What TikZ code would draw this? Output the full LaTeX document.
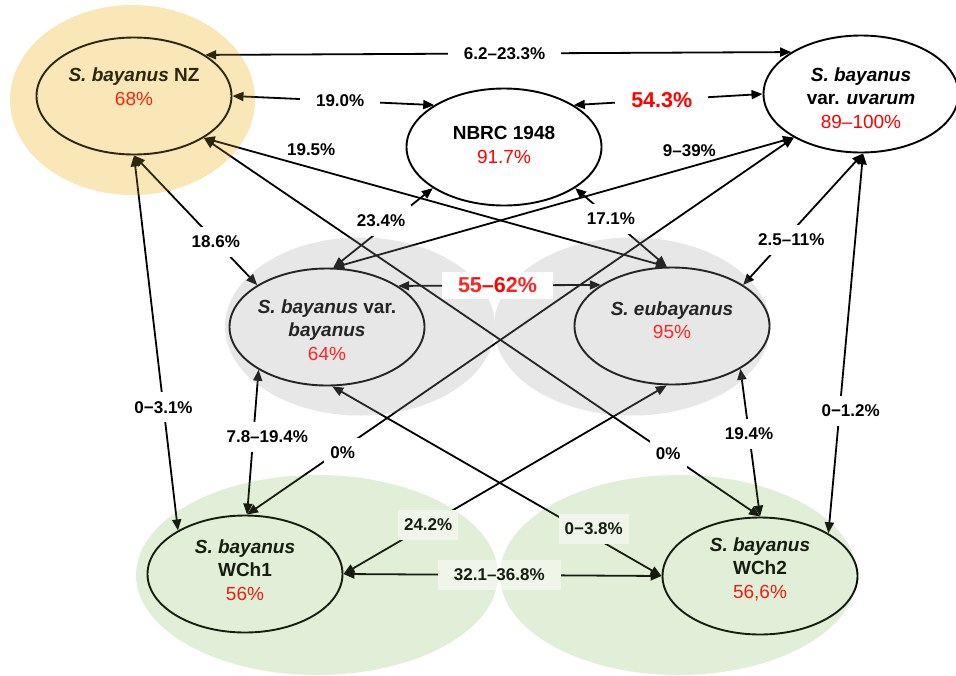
\documentclass[tikz,border=0pt]{standalone}
\usepackage{fontspec}
\setmainfont{Liberation Sans}
\usetikzlibrary{shapes.geometric,arrows.meta,positioning}

\definecolor{nzlow}{RGB}{255,242,212}
\definecolor{nztop}{RGB}{225,190,75}
\definecolor{grlow}{RGB}{228,228,228}
\definecolor{grtop}{RGB}{250,250,250}
\definecolor{chlow}{RGB}{239,247,236}
\definecolor{chtop}{RGB}{150,200,110}

\newcommand{\pcval}[1]{{\mdseries\color{red}#1}}

\begin{document}
\begin{tikzpicture}[x=1pt,y=-1pt,
taxon/.style={ellipse,draw,line width=1.9pt,minimum width=195pt,minimum height=117pt,inner sep=0pt},
taxtext/.style={align=center,inner sep=0pt,font=\fontsize{19}{23.5}\selectfont\bfseries},
lbl/.style={fill=white,inner xsep=6pt,inner ysep=9pt,font=\fontsize{17}{20}\selectfont\bfseries},
wide/.style={inner xsep=16pt},
big/.style={text=red,inner ysep=6pt,font=\fontsize{21.5}{24}\selectfont\bfseries},
tag/.style={inner sep=1pt,font=\fontsize{17}{20}\selectfont\bfseries}
]

\tikzstyle{link} = [{Triangle[length=11pt,width=9pt]}-{Triangle[length=11pt,width=9pt]},line width=1.8pt]

\useasboundingbox (0,0) rectangle (956,675);

% glows under the strains
\fill[nzlow] (132.5,100) ellipse [x radius=122.5, y radius=95];
\fill[grlow] (360,326.5) ellipse [x radius=135, y radius=89];
\fill[grlow] (632,326.5) ellipse [x radius=138, y radius=89];
\fill[chlow] (317,575) ellipse [x radius=181, y radius=100];
\fill[chlow] (678.5,575) ellipse [x radius=178.5, y radius=100];

  \node (nz)   [taxon] at (134,96)  {};
  \node (nbrc) [taxon] at (504,147) {};
  \node (uv)   [taxon] at (861,94)  {};
  \node (vb)   [taxon] at (327,327) {};
  \node (eu)   [taxon] at (672,326) {};
  \node (w1)   [taxon] at (245,574) {};
  \node (w2)   [taxon] at (760,576) {};

  \node (nztext)   [taxtext,yshift=9.5pt] at (nz)   {\textit{S. bayanus}\ NZ\\\pcval{68\%}};
  \node (nbrctext) [taxtext,yshift=2pt]   at (nbrc) {NBRC 1948\\\pcval{91.7\%}};
  \node (uvtext)   [taxtext,yshift=-4pt]  at (uv)   {\textit{S. bayanus}\\var. \textit{uvarum}\\\pcval{89–100\%}};
  \node (vbtext)   [taxtext,yshift=-3pt]  at (vb)   {\textit{S. bayanus}\ var.\\\textit{bayanus}\\\pcval{64\%}};
  \node (eutext)   [taxtext,yshift=6pt]   at (eu)   {\textit{S. eubayanus}\\\pcval{95\%}};
  \node (w1text)   [taxtext,yshift=4pt]   at (w1)   {\textit{S. bayanus}\\WCh1\\\pcval{56\%}};
  \node (w2text)   [taxtext,yshift=7pt]   at (w2)   {\textit{S. bayanus}\\WCh2\\\pcval{56,6\%}};

% links
\draw[link] (nz.30) -- node[lbl,wide,pos=.511] {6.2–23.3\%} (uv.149);
\draw[link] (nz.0) -- node[lbl,wide,pos=.534] {19.0\%} (nbrc.149);
\draw[link] (nbrc.31) -- node[lbl,wide,big,pos=.466] {54.3\%} (uv.180);
\draw[link] (nz.-31) -- node[tag,pos=.232,above=10.5pt] {19.5\%} (eu.95);
\draw[link] (nz.-90) -- node[lbl,pos=.664] {18.6\%} (vb.149);
\draw[link] (nz.-90) -- node[lbl,pos=.672] {0−3.1\%} (w1.147);
\draw[link] (nbrc.-150) -- node[lbl,pos=.52,yshift=9pt] {23.4\%} (vb.84);
\draw[link] (nbrc.-30) -- node[lbl,pos=.39] {17.1\%} (eu.95);
\draw[link] (uv.-147) -- node[tag,pos=.227,above=8.5pt] {9–39\%} (vb.84);
\draw[link] (uv.-88) -- node[lbl,pos=.657,xshift=7pt] {2.5–11\%} (eu.30);
\draw[link] (uv.-88) -- node[lbl,pos=.677,xshift=11pt] {0−1.2\%} (w2.32);
\draw[link] (vb.30) -- node[lbl,wide,big,pos=.49] {55–62\%} (eu.150);
\draw[link] (vb.-148) -- node[lbl,pos=.463,xshift=14pt] {7.8–19.4\%} (w1.88);
\draw[link] (uv.-147) -- node[lbl,pos=.825,yshift=-4pt] {0\%} (w1.88);
\draw[link] (nz.-31) -- node[lbl,pos=.835] {0\%} (w2.90);
\draw[link] (vb.-85) -- node[lbl,pos=.794,yshift=8pt] {0−3.8\%} (w2.180);
\draw[link] (eu.-95) -- node[lbl,pos=.738] {24.2\%} (w1.0);
\draw[link] (eu.-32) -- node[lbl,pos=.44] {19.4\%} (w2.90);
\draw[link] (w1.0) -- node[lbl,wide,pos=.49] {32.1–36.8\%} (w2.180);

% tint over the strains
\fill[nztop,fill opacity=.2] (132.5,100) ellipse [x radius=122.5, y radius=95];
\fill[grtop,fill opacity=.15] (360,326.5) ellipse [x radius=135, y radius=89];
\fill[grtop,fill opacity=.15] (632,326.5) ellipse [x radius=138, y radius=89];
\fill[chtop,fill opacity=.15] (317,575) ellipse [x radius=181, y radius=100];
\fill[chtop,fill opacity=.15] (678.5,575) ellipse [x radius=178.5, y radius=100];

\end{tikzpicture}
\end{document}
